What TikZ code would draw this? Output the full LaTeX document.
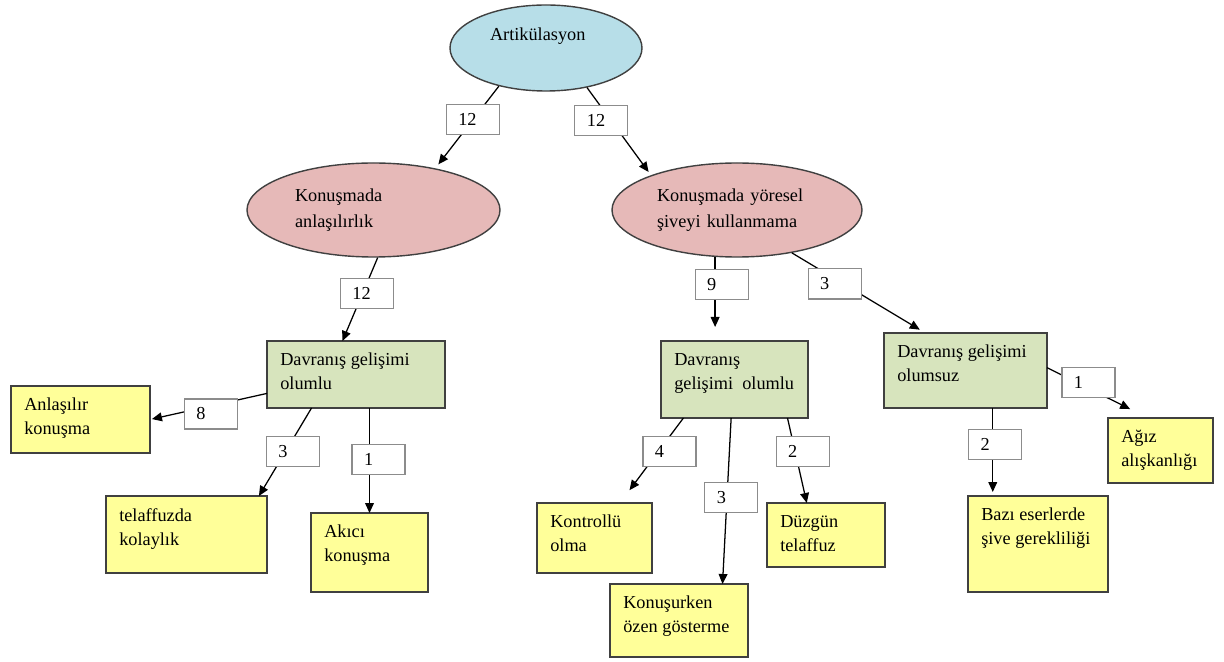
\documentclass[tikz,border=0pt]{standalone}
\usepackage{fontspec}
\setmainfont{Liberation Serif}
\usepackage{tikz}
\usetikzlibrary{shapes.geometric,arrows.meta}
\definecolor{skyfill}{RGB}{183,222,232}
\definecolor{rosefill}{RGB}{230,185,184}
\definecolor{leaffill}{RGB}{215,228,189}
\definecolor{notefill}{RGB}{255,255,153}
\definecolor{rim}{RGB}{64,64,64}
\tikzset{
  oval/.style={ellipse, draw=rim, line width=1pt, inner sep=0pt, align=left,
    font=\fontsize{13}{19}\selectfont},
  plan/.style={rectangle, draw=rim, line width=1.1pt, fill=leaffill, inner sep=0pt, outer sep=0pt},
  note/.style={plan, fill=notefill},
  txt/.style={anchor=north west, inner sep=0pt, xshift=3.25mm, yshift=-3mm, align=left,
    font=\fontsize{13}{17}\selectfont, execute at begin node=\strut},
  cnt/.style={draw=gray!90, fill=white, line width=0.8pt, inner xsep=3mm, inner ysep=0pt,
    text width=7.25mm, minimum height=7.5mm, align=left, font=\fontsize{13}{17}\selectfont},
  arr/.style={line width=0.9pt, -{Triangle[length=2.5mm,width=2.2mm]}}
}
\begin{document}
\begin{tikzpicture}[x=0.25mm, y=-0.25mm]
    \useasboundingbox (0,0) rectangle (1224,662);

    % top and second level
    \node[oval, fill=skyfill, minimum width=48mm, minimum height=21.5mm, text width=28mm] (root) at (546,48) {Artikülasyon\\\mbox{}};
    \node[oval, fill=rosefill, minimum width=63.25mm, minimum height=23.5mm, text width=39.25mm] (anl) at (373.5,210) {Konuşmada\\anlaşılırlık};
    \node[oval, fill=rosefill, minimum width=62.5mm, minimum height=23.5mm, text width=40mm] (yoresel) at (737,210) {Konuşmada yöresel\\şiveyi kullanmama};

    % behaviour boxes
    \node[plan, minimum width=44.5mm, minimum height=16.75mm, label={[txt]north west:Davranış gelişimi\\olumlu}] (g1) at (356,374.5) {};
    \node[plan, minimum width=36.75mm, minimum height=19.25mm, label={[txt]north west:Davranış\\gelişimi\ \ olumlu}] (g2) at (734.5,379.5) {};
    \node[plan, minimum width=40.75mm, minimum height=18.75mm, label={[txt]north west:Davranış gelişimi\\olumsuz}] (g3) at (965.5,370.5) {};

    % leaves
    \node[note, minimum width=34.75mm, minimum height=16.75mm, label={[txt]north west:Anlaşılır\\konuşma}] (anlasilir) at (80.5,419.5) {};
    \node[note, minimum width=40.25mm, minimum height=19.25mm, label={[txt]north west:telaffuzda\\kolaylık}] (telaffuzda) at (186.5,534.5) {};
    \node[note, minimum width=29.25mm, minimum height=19.75mm, label={[txt]north west:Akıcı\\konuşma}] (akici) at (369.5,552.5) {};
    \node[note, minimum width=28.75mm, minimum height=17.5mm, label={[txt]north west:Kontrollü\\olma}] (kontrol) at (594.5,538) {};
    \node[note, minimum width=34.5mm, minimum height=18.25mm, label={[txt]north west:Konuşurken\\özen gösterme}] (ozen) at (679,620.5) {};
    \node[note, minimum width=29.5mm, minimum height=16mm, label={[txt]north west:Düzgün\\telaffuz}] (duzgun) at (826,535) {};
    \node[note, minimum width=26.25mm, minimum height=16.25mm, label={[txt]north west:Ağız\\alışkanlığı}] (agiz) at (1160.5,450.5) {};
    \node[note, minimum width=35mm, minimum height=24mm, label={[txt]north west:Bazı eserlerde\\şive gerekliliği}] (bazi) at (1038,544) {};

    % counts on the arrows
    \draw[arr, shorten >=1.25mm] (root.219) -- node[cnt, pos=.41] (c1) {12} (anl.34);
    \draw[arr, shorten >=1mm] (root.-44) -- node[cnt, pos=.375, xshift=-2.4mm] (c2) {12} (yoresel.158);
    \draw[arr] (anl.-85) -- node[cnt, pos=.43, xshift=1.1mm] (c3) {12} (g1.112);
    \draw[arr, shorten >=.5mm] (g1.192) -- node[cnt, pos=.48, yshift=-2mm] (c4) {8} (anlasilir.east);
    \draw[arr] (g1.217) -- node[cnt, pos=.49, xshift=1.8mm] (c5) {3} (telaffuzda.28);
    \draw[arr] (akici.north |- g1.south) -- node[cnt, pos=.49, xshift=2.25mm] (c6) {1} (akici.north);
    \draw[arr, shorten >=3.5mm] (yoresel.-115) -- node[cnt, pos=.33, xshift=1.65mm] (c7) {9} (yoresel.-115 |- g2.north);
    \draw[arr, shorten >=1.6mm] (yoresel.-38) -- node[cnt, pos=.32, yshift=-1.35mm] (c8) {3} (g3.137);
    \draw[arr, shorten >=4mm] (g2.217) -- node[cnt, pos=.39, xshift=2.7mm] (c9) {4} (kontrol.54);
    \draw[arr] (g2.-95) -- node[cnt, pos=.48, xshift=1.1mm] (c10) {3} (ozen.40);
    \draw[arr] (g2.-36) -- node[cnt, pos=.39, xshift=1.9mm] (c11) {2} (duzgun.121);
    \draw[arr, shorten >=5mm] (g3.2) -- node[cnt, pos=.41, yshift=1.4mm] (c12) {1} (agiz.111);
    \draw[arr, shorten >=1mm] (g3.-54) -- node[cnt, pos=.41, xshift=.6mm] (c13) {2} (g3.-54 |- bazi.north);
\end{tikzpicture}
\end{document}
